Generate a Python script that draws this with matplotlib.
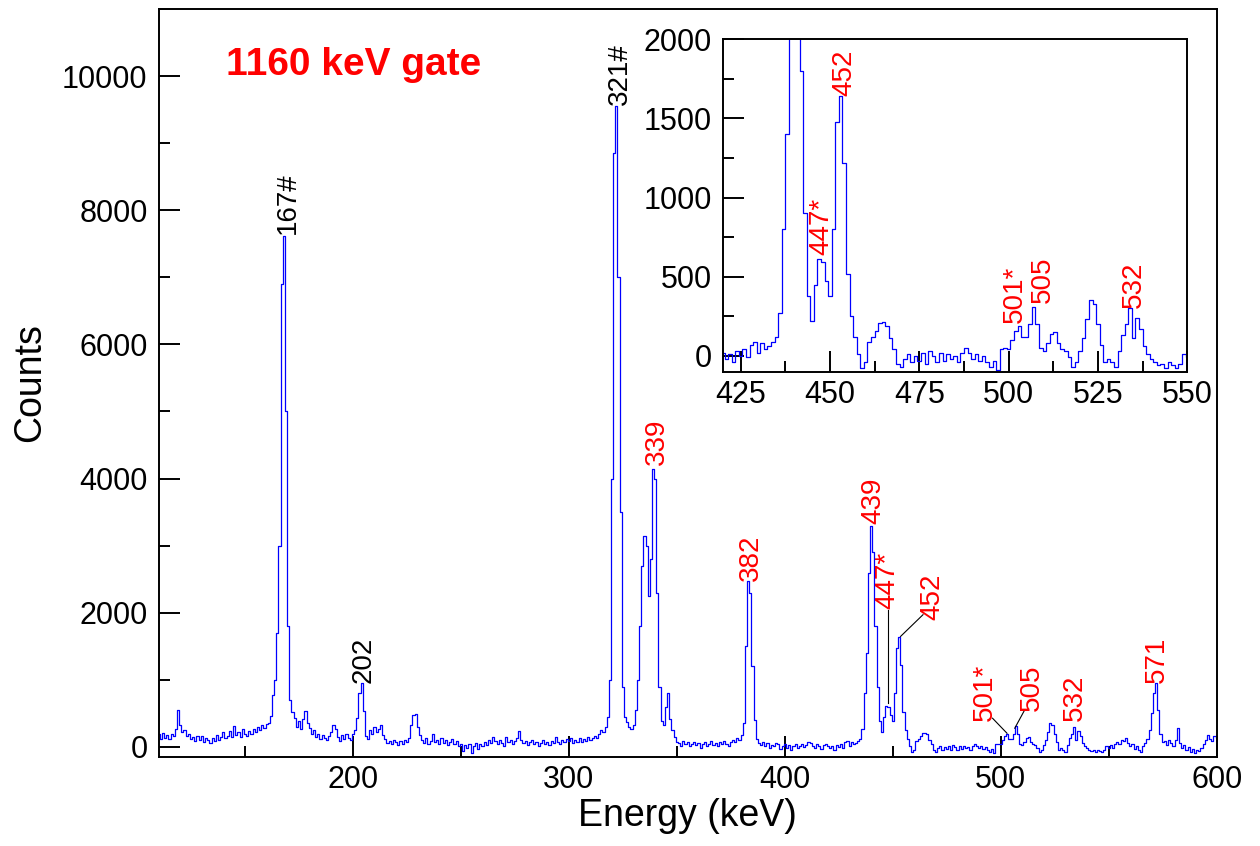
import matplotlib.pyplot as plt
import numpy as np
from matplotlib.ticker import MultipleLocator

plt.rcParams['font.family'] = ['Liberation Sans', 'DejaVu Sans']

# 1160 keV gated spectrum, 1 keV bins from 110 to 600 keV
energy = np.arange(110, 601)
counts = [
    190, 120, 210, 140, 180, 120, 200, 170, 270, 550,        # 110
    330, 220, 250, 160, 190, 120, 150, 90, 160, 110,         # 120
    170, 80, 140, 100, 60, 130, 90, 180, 110, 150,           # 130
    220, 130, 170, 240, 150, 310, 180, 230, 150, 260,        # 140
    190, 170, 240, 200, 260, 220, 290, 250, 320, 280,        # 150
    340, 360, 460, 770, 1000, 1700, 3000, 6900, 7610, 5000,  # 160
    1800, 700, 520, 430, 300, 380, 260, 420, 530, 350,       # 170
    280, 200, 250, 150, 200, 120, 180, 140, 110, 170,        # 180
    220, 330, 260, 150, 90, 180, 120, 200, 140, 110,         # 190
    190, 250, 430, 800, 950, 530, 160, 120, 250, 200,        # 200
    290, 220, 260, 330, 180, 120, 60, 90, 40, 100,           # 210
    70, 30, 90, 50, 110, 80, 130, 330, 480, 490,             # 220
    300, 180, 110, 60, 130, 50, 90, 200, 70, 110,            # 230
    40, 130, 60, 100, 30, 80, 120, 50, 90, 10,               # 240
    40, -60, 30, -20, 50, -90, 20, 60, -30, 40,              # 250
    10, 80, 30, 110, 60, 150, 90, 40, 100, 60,               # 260
    20, 150, 70, 100, 50, 90, 130, 240, 110, 60,             # 270
    90, 30, 70, 110, 40, 80, 20, 60, 100, 50,                # 280
    70, 30, 90, 60, 150, 80, 50, 100, 70, 120,               # 290
    90, 140, 60, 110, 80, 130, 70, 120, 90, 150,             # 300
    100, 140, 170, 130, 200, 250, 220, 300, 450, 1000,       # 310
    4000, 8850, 9554, 7000, 3500, 900, 450, 370, 300, 270,   # 320
    330, 550, 1000, 1800, 2700, 3150, 3000, 2250, 2800, 4150,  # 330
    4000, 2300, 900, 380, 320, 600, 810, 420, 250, 150,      # 340
    80, 60, 20, 90, 40, 70, 10, 50, 80, 30,                  # 350
    60, -10, 40, 70, 20, 50, 90, 30, 60, 10,                 # 360
    70, 40, 90, 50, 20, 80, 110, 70, 130, 100,               # 370
    180, 350, 1500, 2470, 2300, 1200, 400, 120, 60, 30,      # 380
    70, 20, 60, -20, 30, 10, 60, 40, -30, 20,                # 390
    50, -10, 30, -40, 10, 40, -20, 20, 50, 0,                # 400
    30, 80, 60, 20, -10, 40, 10, -30, 30, 50,                # 410
    20, -20, 10, -40, 30, 0, 40, -10, 70, 90,                # 420
    20, 80, 40, 60, 90, 120, 270, 800, 1400, 2600,           # 430
    3290, 2900, 1800, 900, 380, 220, 450, 610, 590, 470,     # 440
    380, 800, 1480, 1640, 1220, 520, 250, 120, 10, -80,      # 450
    -40, 90, 120, 160, 210, 215, 190, 110, 40, -50,          # 460
    -70, -20, 10, -40, 0, -30, 20, -50, 30, 0,               # 470
    -40, 20, -30, 10, -20, 0, -40, 20, 50, 20,               # 480
    -20, 10, -30, 0, -40, -70, -30, -90, 40, 50,             # 490
    40, 100, 160, 190, 120, 120, 200, 310, 200, 50,          # 500
    30, 80, 140, 150, 80, 40, 30, -10, -70, -40,             # 510
    30, 110, 230, 350, 330, 200, 70, -40, -20, -40,          # 520
    -70, 30, 130, 200, 300, 110, 240, 170, 60, 10,           # 530
    -20, -40, -60, -50, -80, -40, -60, -80, -50, 10,         # 540
    -10, 30, -20, 40, 70, 50, 100, 90, 130, 60,              # 550
    20, 50, -30, 10, -50, -70, 20, 60, 120, 250,             # 560
    500, 800, 950, 550, 200, 80, 90, 30, 100, 60,            # 570
    20, 110, 280, 60, -20, 30, -40, 0, -70, -30,             # 580
    -90, -40, -60, -10, 40, 100, 180, 120, 90, 160,          # 590
    140,                                                     # 600
]

# peak labels on the full range: text, energy, height of text base, colour
main_labels = [
    ('167#', 169.7, 7650, 'black'),
    ('202', 204.8, 960, 'black'),
    ('321#', 323.6, 9570, 'black'),
    ('339', 340.6, 4200, 'red'),
    ('382', 384.2, 2480, 'red'),
    ('439', 440.9, 3320, 'red'),
    ('447*', 447.5, 2050, 'red'),
    ('452', 468.3, 1890, 'red'),
    ('501*', 492.6, 380, 'red'),
    ('505', 514.2, 530, 'red'),
    ('532', 534.3, 380, 'red'),
    ('571', 572.1, 955, 'red'),
]
# leader lines from peak to label: (x0, y0, x1, y1)
leaders = [
    (447.8, 652, 447.8, 2045),
    (453.6, 1647, 464.0, 1971),
    (502.9, 204, 496.2, 428),
    (506.5, 279, 511.1, 552),
]
# labels in the zoomed panel
inset_labels = [
    ('447*', 447.6, 635, 'red'),
    ('452', 453.9, 1645, 'red'),
    ('501*', 501.8, 210, 'red'),
    ('505', 509.7, 335, 'red'),
    ('532', 535.1, 305, 'red'),
]

fig = plt.figure(figsize=(12.6, 8.46), dpi=100)
ax = fig.add_axes([0.1259, 0.1052, 0.8397, 0.8842])


def style(a, fs):
    for side in ['left', 'bottom', 'top', 'right']:
        a.spines[side].set_linewidth(1.4)
    a.tick_params(which='both', direction='in', top=False, right=False,
                  width=1.4, labelsize=fs)
    a.tick_params(which='major', length=15)
    a.tick_params(which='minor', length=8)
    a.tick_params(axis='y', pad=8)
    a.tick_params(axis='x', pad=6)


ax.step(energy, counts, where='mid', color='#0000ff', lw=0.9)
ax.set_xlim(110, 600)
ax.set_ylim(-150, 11000)
ax.xaxis.set_major_locator(MultipleLocator(100))
ax.xaxis.set_minor_locator(MultipleLocator(50))
ax.yaxis.set_major_locator(MultipleLocator(2000))
ax.yaxis.set_minor_locator(MultipleLocator(1000))
style(ax, 22)
ax.set_xlabel('Energy (keV)', fontsize=27, labelpad=2)
ax.set_ylabel('Counts', fontsize=27, labelpad=10)

for txt, x, y, c in main_labels:
    ax.text(x, y, txt, rotation=90, ha='center', va='bottom', color=c, fontsize=20)
for x0, y0, x1, y1 in leaders:
    ax.plot([x0, x1], [y0, y1], color='black', lw=0.8)

ax.text(0.064, 0.925, '1160 keV gate', transform=ax.transAxes, color='red',
        fontsize=28, fontweight='bold', ha='left', va='center')

# zoomed panel 420-550 keV
ins = fig.add_axes([0.5736, 0.5607, 0.3687, 0.3928])
ins.step(energy, counts, where='mid', color='#0000ff', lw=0.9)
ins.set_xlim(420, 550)
ins.set_ylim(-100, 2000)
ins.xaxis.set_major_locator(MultipleLocator(25))
ins.xaxis.set_minor_locator(MultipleLocator(12.5))
ins.yaxis.set_major_locator(MultipleLocator(500))
ins.yaxis.set_minor_locator(MultipleLocator(250))
style(ins, 22)
for txt, x, y, c in inset_labels:
    ins.text(x, y, txt, rotation=90, ha='center', va='bottom', color=c, fontsize=20)

fig.savefig('out.png', dpi=100)
